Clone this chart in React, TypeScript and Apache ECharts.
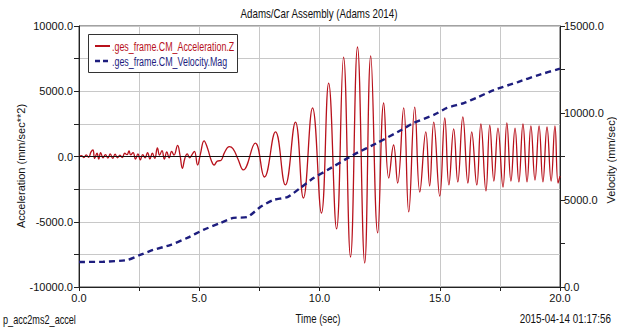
import React, { useEffect, useRef } from "react";
import * as echarts from "echarts";

// Acceleration Z (mm/sec**2) sampled at irregular times (sec)
const accTime = [
  0.0, 0.1, 0.2, 0.3, 0.4, 0.5, 0.58, 0.65, 0.75, 0.82, 0.9, 1.0, 1.1, 1.2, 1.3, 1.4, 1.5, 1.6, 1.7, 1.8,
  1.9, 2.0, 2.08, 2.15, 2.25, 2.35, 2.45, 2.55, 2.65, 2.75, 2.85, 2.95, 3.05, 3.15, 3.26, 3.35, 3.45, 3.55,
  3.65, 3.75, 3.85, 3.95, 4.1, 4.2, 4.3, 4.4, 4.5, 4.6, 4.7, 4.8, 4.93, 5.05, 5.2, 5.35, 5.5, 5.62, 5.75,
  5.9, 6.05, 6.25, 6.4, 6.6, 6.83, 7.33, 7.71, 8.17, 8.58, 9.0, 9.33, 9.71, 10.08, 10.38, 10.71, 11.0,
  11.29, 11.58, 11.88, 12.13, 12.42, 12.67, 12.88, 13.08, 13.25, 13.5, 13.71, 13.96, 14.17, 14.42, 14.58,
  14.75, 15.0, 15.21, 15.38, 15.58, 15.75, 15.96, 16.17, 16.33, 16.54, 16.71, 16.92, 17.08, 17.25, 17.42,
  17.63, 17.79, 17.96, 18.13, 18.29, 18.46, 18.63, 18.79, 18.96, 19.13, 19.29, 19.46, 19.63, 19.79, 19.92,
  20.0,
];
const accZ = [
  0, 60, -80, 120, -60, 350, 500, -150, 250, -200, 300, -100, 150, -120, 200, -150, 180, -100, 100, -80,
  250, 150, 420, 120, 300, -200, 200, -250, 150, -100, 300, -180, 250, -150, 650, 100, 450, -200,
  350, -100, 400, 100, 850, 100, -900, -150, 200, -100, 150, 400, -650, 200, 1200, 600, -300, -650, -350,
  -300, 300, 750, 600, -150, -1030, 1030, -1570, 1880, -2180, 2640, -3180, 3720, -4330, 5630, -5550, 7620,
  -7700, 8390, -8160, 7700, -5860, 4100, -1650, 880, -2030, 3720, -4250, 3790, -2720, 1880, -2260,
  2640, -3030, 2950, -2180, 2110, -1950, 3030, -2030, 1880, -2180, 2490, -2640, 2410, -1880, 2180,
  -2340, 2570, -1880, 2180, -1950, 2490, -1950, 2340, -1800, 2340, -1950, 2260, -1880, 2340, -2030,
  -1500,
];

// Velocity magnitude (mm/sec)
const velTime = [
  0, 1.0, 2.0, 2.54, 3.08, 3.79, 4.5, 5.17, 5.88, 6.42, 7.0, 7.54, 8.08, 8.67, 9.2, 9.75, 10.33, 11.4,
  12.4, 13.4, 13.9, 14.75, 15.3, 16.0, 16.6, 17.25, 18.25, 19.1, 20.0,
];
const velMag = [
  1440, 1450, 1550, 1840, 2130, 2410, 2820, 3280, 3680, 3970, 4020, 4600, 5000, 5170, 5690, 6260, 6720,
  7590, 8280, 9020, 9420, 9890, 10290, 10570, 10920, 11320, 11780, 12180, 12550,
];

const accName = ".ges_frame.CM_Acceleration.Z";
const velName = ".ges_frame.CM_Velocity.Mag";
const titleText = "Adams/Car Assembly (Adams 2014)";
const xTitle = "Time (sec)";
const accTitle = "Acceleration (mm/sec**2)";
const velTitle = "Velocity (mm/sec)";
const analysisName = "p_acc2ms2_accel";
const stampText = "2015-04-14 01:17:56";

const SANS = "'Liberation Sans', Arial, sans-serif";
const ACC_COLOR = "#b8111b";
const VEL_COLOR = "#1d1d7e";
const INK = "#111";

// Condensed caption text, drawn through a horizontal scale
function caption(text: string, x: number, y: number, align: string, size: number, fill = INK, sx = 0.78) {
  return {
    type: "text",
    x,
    y,
    scaleX: sx,
    z: 100,
    style: { text, x: 0, y: 0, align, verticalAlign: "middle", fontFamily: SANS, fontSize: size, fill },
  };
}

export default function App() {
  const ref = useRef<HTMLDivElement>(null);

  useEffect(() => {
    if (!ref.current) return;
    const chart = echarts.init(ref.current, undefined, { renderer: "svg" });

    const accData = accTime.map((t, i) => [t, accZ[i]]);
    const velData = velTime.map((t, i) => [t, velMag[i]]);

    const tickFont = { fontFamily: SANS, fontSize: 11, color: INK };

    chart.setOption({
      animation: false,
      backgroundColor: "#fff",
      grid: {
        left: 79,
        right: 57,
        top: 26,
        bottom: 48,
        show: true,
        borderColor: "#444",
        borderWidth: 1,
      },
      xAxis: {
        type: "value",
        min: 0,
        max: 20,
        interval: 2.5,
        axisLine: { onZero: false, lineStyle: { color: "#222" } },
        axisTick: { show: true, length: 4, lineStyle: { color: "#222" } },
        axisLabel: {
          ...tickFont,
          margin: 5,
          formatter: (v: number) => (v % 5 === 0 ? v.toFixed(1) : ""),
        },
        splitLine: { show: true, lineStyle: { color: "#c8c8c8", width: 1 } },
      },
      yAxis: [
        {
          type: "value",
          min: -10000,
          max: 10000,
          interval: 2500,
          position: "left",
          axisLine: { show: true, onZero: false, lineStyle: { color: "#222" } },
          axisTick: { show: true, length: 5, lineStyle: { color: "#222" } },
          axisLabel: {
            ...tickFont,
            margin: 6,
            formatter: (v: number) => (v % 5000 === 0 ? v.toFixed(1) : ""),
          },
          splitLine: { show: true, lineStyle: { color: "#c8c8c8", width: 1 } },
        },
        {
          type: "value",
          min: 0,
          max: 15000,
          interval: 2500,
          position: "right",
          axisLine: { show: true, onZero: false, lineStyle: { color: "#222" } },
          axisTick: { show: true, length: 5, lineStyle: { color: "#222" } },
          axisLabel: {
            ...tickFont,
            margin: 4,
            formatter: (v: number) => (v % 5000 === 0 ? v.toFixed(1) : ""),
          },
          splitLine: { show: false },
        },
      ],
      graphic: [
        caption(titleText, 319, 14, "center", 12.5),
        caption(xTitle, 318, 319, "center", 12, INK, 0.8),
        caption(analysisName, 3, 319, "left", 12, INK, 0.76),
        caption(stampText, 611, 319, "right", 12, INK, 0.82),
        {
          type: "text",
          x: 21,
          y: 166,
          rotation: Math.PI / 2,
          z: 100,
          style: {
            text: accTitle,
            x: 0,
            y: 0,
            align: "center",
            verticalAlign: "middle",
            fontFamily: SANS,
            fontSize: 11,
            fill: INK,
          },
        },
        {
          type: "text",
          x: 611,
          y: 160,
          rotation: Math.PI / 2,
          z: 100,
          style: {
            text: velTitle,
            x: 0,
            y: 0,
            align: "center",
            verticalAlign: "middle",
            fontFamily: SANS,
            fontSize: 11,
            fill: INK,
          },
        },
        // legend box
        {
          type: "rect",
          z: 100,
          shape: { x: 88.5, y: 34.5, width: 149, height: 38 },
          style: { fill: "#fff", stroke: "#333", lineWidth: 1 },
        },
        {
          type: "line",
          z: 101,
          shape: { x1: 95, y1: 46, x2: 110, y2: 46 },
          style: { stroke: ACC_COLOR, lineWidth: 2 },
        },
        {
          type: "line",
          z: 101,
          shape: { x1: 95, y1: 61, x2: 110, y2: 61 },
          style: { stroke: VEL_COLOR, lineWidth: 2.5, lineDash: [5, 3] },
        },
        { ...caption(accName, 112, 46, "left", 12.5, ACC_COLOR, 0.71), z: 101 },
        { ...caption(velName, 112, 61, "left", 12.5, VEL_COLOR, 0.71), z: 101 },
      ],
      series: [
        {
          name: accName,
          type: "line",
          yAxisIndex: 0,
          data: accData,
          smooth: 0.45,
          symbol: "none",
          lineStyle: { color: ACC_COLOR, width: 1.3 },
          itemStyle: { color: ACC_COLOR },
          markLine: {
            silent: true,
            symbol: "none",
            label: { show: false },
            lineStyle: { color: "#111", width: 1, type: "solid" },
            data: [{ yAxis: 0 }],
          },
          z: 2,
        },
        {
          name: velName,
          type: "line",
          yAxisIndex: 1,
          data: velData,
          smooth: 0.2,
          symbol: "none",
          lineStyle: { color: VEL_COLOR, width: 2.4, type: [6, 4] },
          itemStyle: { color: VEL_COLOR },
          z: 3,
        },
      ],
    });

    return () => chart.dispose();
  }, []);

  return (
    <div
      ref={ref}
      style={{ position: "absolute", left: 0, top: 0, width: 617, height: 335 }}
    />
  );
}
